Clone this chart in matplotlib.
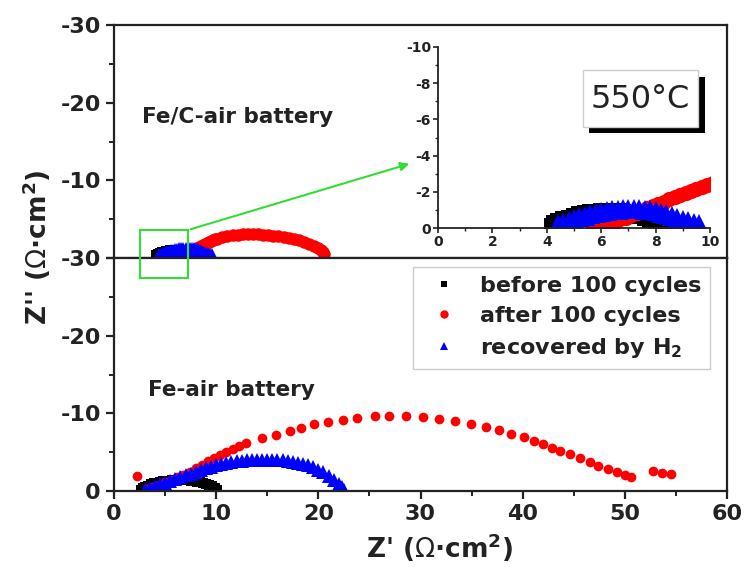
import matplotlib.pyplot as plt
import matplotlib.patches as mpatches
from matplotlib.ticker import MultipleLocator

plt.rcParams["font.family"] = ["DejaVu Sans"]
plt.rcParams["mathtext.fontset"] = "dejavusans"
plt.rcParams["axes.unicode_minus"] = False

# --- Fe/C-air battery (top panel + inset) ---
fc_before_x = [4.2, 4.25, 4.4, 4.6, 4.8, 5.0, 5.2, 5.4, 5.6, 5.8, 6.0, 6.2, 6.4, 6.6, 6.8, 7.0,
               7.2, 7.4, 7.6, 7.8, 8.0, 8.2, 8.4]
fc_before_y = [-0.1, -0.3, -0.38, -0.48, -0.58, -0.67, -0.75, -0.82, -0.87, -0.91, -0.94, -0.95,
               -0.95, -0.93, -0.9, -0.85, -0.78, -0.69, -0.58, -0.46, -0.33, -0.2, -0.08]

fc_after_x = [5.7, 5.9, 6.1, 6.3, 6.5, 6.7, 6.9, 7.1, 7.3, 7.5, 7.7, 7.9, 8.1, 8.3, 8.5, 8.7, 8.9,
              9.1, 9.3, 9.5, 9.7, 9.9, 10.1,
              10.6, 11.1, 11.6, 12.1, 12.6, 13.1, 13.6, 14.1, 14.6, 15.1, 15.6, 16.1, 16.6, 17.1,
              17.6, 18.1, 18.6, 19.1, 19.6, 20.0, 20.3, 20.5, 20.6]
fc_after_y = [0.05, -0.05, -0.15, -0.25, -0.35, -0.47, -0.58, -0.7, -0.82, -0.95, -1.08, -1.2,
              -1.33, -1.46, -1.58, -1.7, -1.82, -1.94, -2.05, -2.17, -2.28, -2.4, -2.5,
              -2.68, -2.82, -2.93, -3.0, -3.05, -3.07, -3.07, -3.05, -3.01, -2.96, -2.89, -2.8,
              -2.7, -2.58, -2.43, -2.26, -2.06, -1.82, -1.55, -1.28, -1.02, -0.78, -0.55]

fc_rec_x = [4.4, 4.6, 4.8, 5.0, 5.2, 5.4, 5.6, 5.8, 6.0, 6.2, 6.4, 6.6, 6.8, 7.0, 7.2, 7.4, 7.6,
            7.8, 8.0, 8.2, 8.4, 8.6, 8.8, 9.0, 9.2, 9.4, 9.6]
fc_rec_y = [-0.2, -0.3, -0.4, -0.5, -0.59, -0.67, -0.75, -0.82, -0.88, -0.93, -0.98, -1.01, -1.04,
            -1.05, -1.05, -1.04, -1.01, -0.97, -0.92, -0.85, -0.76, -0.66, -0.55, -0.45, -0.36,
            -0.28, -0.2]

# --- Fe-air battery (bottom panel) ---
fe_before_x = [2.6, 2.8, 3.0, 3.3, 3.6, 3.9, 4.2, 4.5, 4.8, 5.1, 5.4, 5.7, 6.0, 6.3, 6.6, 6.9,
               7.2, 7.5, 7.8, 8.1, 8.4, 8.7, 9.0, 9.3, 9.6, 9.9, 10.1]
fe_before_y = [-0.15, -0.35, -0.52, -0.7, -0.85, -0.97, -1.07, -1.16, -1.23, -1.29, -1.34, -1.37,
               -1.39, -1.4, -1.4, -1.39, -1.37, -1.33, -1.28, -1.22, -1.14, -1.04, -0.92, -0.77,
               -0.58, -0.36, -0.18]

fe_after_x = [2.3, 3.2, 3.8, 4.4, 5.0, 5.6, 6.2, 6.8, 7.4, 8.0, 8.6, 9.2, 9.8, 10.4, 11.0, 11.6,
              12.2, 12.9, 14.5, 15.9, 17.2, 18.3, 19.6, 20.9, 22.4, 23.8, 25.5, 26.9, 28.6, 30.2,
              31.8, 33.4, 34.9, 36.4, 37.7, 38.9, 40.1, 41.1, 42.0, 42.9, 43.7, 44.6, 45.6, 46.6,
              47.4, 48.4, 49.2, 50.0, 50.6, 52.8, 53.6, 54.5]
fe_after_y = [-1.9, -0.2, -0.5, -0.8, -1.1, -1.4, -1.75, -2.1, -2.5, -2.95, -3.4, -3.85, -4.3,
              -4.65, -5.0, -5.4, -5.8, -6.15, -6.8, -7.2, -7.7, -8.1, -8.6, -8.9, -9.2, -9.4,
              -9.6, -9.65, -9.65, -9.5, -9.3, -9.0, -8.6, -8.2, -7.8, -7.3, -6.9, -6.5, -6.0,
              -5.6, -5.2, -4.7, -4.3, -3.7, -3.2, -2.8, -2.4, -2.0, -1.8, -2.55, -2.35, -2.2]

fe_rec_x = [3.0, 3.5, 4.0, 4.5, 5.0, 5.5, 6.0, 6.5, 7.0, 7.5, 8.0, 8.5, 9.0, 9.5, 10.0, 10.5,
            11.0, 11.5, 12.0, 12.5, 13.0, 13.5, 14.0, 14.5, 15.0, 15.5, 16.0, 16.5, 17.0, 17.5,
            18.0, 18.5, 19.0, 19.5, 20.0, 20.5, 21.0, 21.5, 22.0, 22.3, 22.5]
fe_rec_y = [-0.1, -0.4, -0.65, -0.85, -1.05, -1.25, -1.5, -1.75, -2.0, -2.25, -2.5, -2.72, -2.93,
            -3.12, -3.3, -3.45, -3.58, -3.7, -3.8, -3.88, -3.95, -4.0, -4.03, -4.05, -4.05,
            -4.03, -4.0, -3.95, -3.88, -3.78, -3.65, -3.5, -3.3, -3.05, -2.75, -2.4, -1.95,
            -1.45, -0.9, -0.5, -0.15]

labels = ["before 100 cycles", "after 100 cycles", r"recovered by H$_\mathbf{2}$"]

W, H = 745, 567


def fx(px):
    return px / W


def fy(py):
    return 1 - py / H


fig = plt.figure(figsize=(W / 100, H / 100), dpi=100)
ax_top = fig.add_axes([fx(114), fy(258), 613 / W, 233 / H])
ax_bot = fig.add_axes([fx(114), fy(491), 613 / W, 233 / H])

for ax in (ax_top, ax_bot):
    ax.set_xlim(0, 60)
    ax.set_ylim(0, -30)
    ax.set_yticks([-30, -20, -10, 0])
    ax.yaxis.set_minor_locator(MultipleLocator(5))
    ax.xaxis.set_major_locator(MultipleLocator(10))
    ax.xaxis.set_minor_locator(MultipleLocator(5))
    for sp in ax.spines.values():
        sp.set_linewidth(1.6)
        sp.set_color("#222222")
    ax.tick_params(which="major", direction="out", length=6, width=1.6, labelsize=16,
                   colors="#222222")
    ax.tick_params(which="minor", direction="out", length=3.5, width=1.4, colors="#222222")
    for lab in ax.get_xticklabels() + ax.get_yticklabels():
        lab.set_fontweight("bold")

ax_top.tick_params(axis="x", which="both", length=0, labelbottom=False)
ax_top.set_yticks([-30, -20, -10, 0], ["-30", "-20", "-10", ""], fontweight="bold")

# top panel: Fe/C-air
ax_top.plot(fc_before_x, fc_before_y, "s", color="black", ms=9, mew=0)
ax_top.plot(fc_after_x, fc_after_y, "o", color="red", ms=9, mew=0)
ax_top.plot(fc_rec_x, fc_rec_y, "^", color="blue", ms=11, mew=0)
ax_top.text(0.046, 0.605, "Fe/C-air battery", transform=ax_top.transAxes, fontsize=15.5,
            fontweight="bold", color="#222222", va="center")

# bottom panel: Fe-air
ax_bot.plot(fe_before_x, fe_before_y, "s", color="black", ms=7, mew=0)
ax_bot.plot(fe_after_x, fe_after_y, "o", color="red", ms=7, mew=0)
ax_bot.plot(fe_rec_x, fe_rec_y, "^", color="blue", ms=10, mew=0)
ax_bot.text(0.055, 0.433, "Fe-air battery", transform=ax_bot.transAxes, fontsize=15.5,
            fontweight="bold", color="#222222", va="center")

leg_handles = [
    plt.Line2D([], [], ls="none", marker="s", color="black", ms=5, mew=0),
    plt.Line2D([], [], ls="none", marker="o", color="red", ms=6, mew=0),
    plt.Line2D([], [], ls="none", marker="^", color="blue", ms=6, mew=0),
]
leg = ax_bot.legend(leg_handles, labels, loc="upper left", bbox_to_anchor=(fx(413), fy(267)),
                    bbox_transform=fig.transFigure, borderaxespad=0, fancybox=False,
                    edgecolor="#cccccc", framealpha=1, handletextpad=0.6, labelspacing=0.45,
                    borderpad=0.4, prop={"size": 16, "weight": "bold"})
leg.get_frame().set_linewidth(1.0)
for t in leg.get_texts():
    t.set_color("#222222")

# inset
ax_in = fig.add_axes([fx(438), fy(228), 272 / W, 181 / H])
ax_in.set_facecolor("none")
ax_in.plot(fc_before_x, fc_before_y, "s", color="black", ms=11, mew=0)
ax_in.plot(fc_after_x, fc_after_y, "o", color="red", ms=11, mew=0)
ax_in.plot(fc_rec_x, fc_rec_y, "^", color="blue", ms=14, mew=0)
ax_in.set_xlim(0, 10)
ax_in.set_ylim(0, -10)
ax_in.xaxis.set_major_locator(MultipleLocator(2))
ax_in.xaxis.set_minor_locator(MultipleLocator(1))
ax_in.yaxis.set_major_locator(MultipleLocator(2))
ax_in.yaxis.set_minor_locator(MultipleLocator(1))
ax_in.spines["top"].set_visible(False)
ax_in.spines["right"].set_visible(False)
for sp in ("left", "bottom"):
    ax_in.spines[sp].set_linewidth(1.3)
    ax_in.spines[sp].set_color("#222222")
ax_in.tick_params(which="major", direction="out", length=3.5, width=1.2, labelsize=10,
                  pad=1.5, colors="#222222")
ax_in.tick_params(which="minor", direction="out", length=2, width=1.0, colors="#222222")
for lab in ax_in.get_xticklabels() + ax_in.get_yticklabels():
    lab.set_fontweight("bold")

# 550 C box with shadow
fig.add_artist(mpatches.Rectangle((fx(589), fy(133)), fx(116), 56 / H, transform=fig.transFigure,
                                  facecolor="black", edgecolor="none"))
fig.add_artist(mpatches.Rectangle((fx(583), fy(127)), fx(115), 57 / H, transform=fig.transFigure,
                                  facecolor="white", edgecolor="#cccccc", lw=1.0))
fig.text(fx(640.5), fy(99), "550°C", fontsize=23, color="#222222", ha="center", va="center")

# green zoom box and arrow
green = "#33dd33"
fig.add_artist(mpatches.Rectangle((fx(140), fy(278)), fx(48), 48 / H, transform=fig.transFigure,
                                  facecolor="none", edgecolor=green, lw=1.5, zorder=5))
fig.add_artist(mpatches.FancyArrowPatch((fx(188), fy(230)), (fx(412), fy(163)),
                                        transform=fig.transFigure, arrowstyle="-|>",
                                        mutation_scale=13, color=green, lw=1.5, zorder=5))

# axis labels
fig.text(fx(37), fy(247), r"Z'' ($\Omega$·cm$^\mathbf{2}$)", rotation=90, fontsize=19,
         fontweight="bold", color="#222222", ha="center", va="center")
fig.text(fx(440), fy(548), r"Z' ($\Omega$·cm$^\mathbf{2}$)", fontsize=19,
         fontweight="bold", color="#222222", ha="center", va="center")

fig.savefig("out.png", dpi=100)
